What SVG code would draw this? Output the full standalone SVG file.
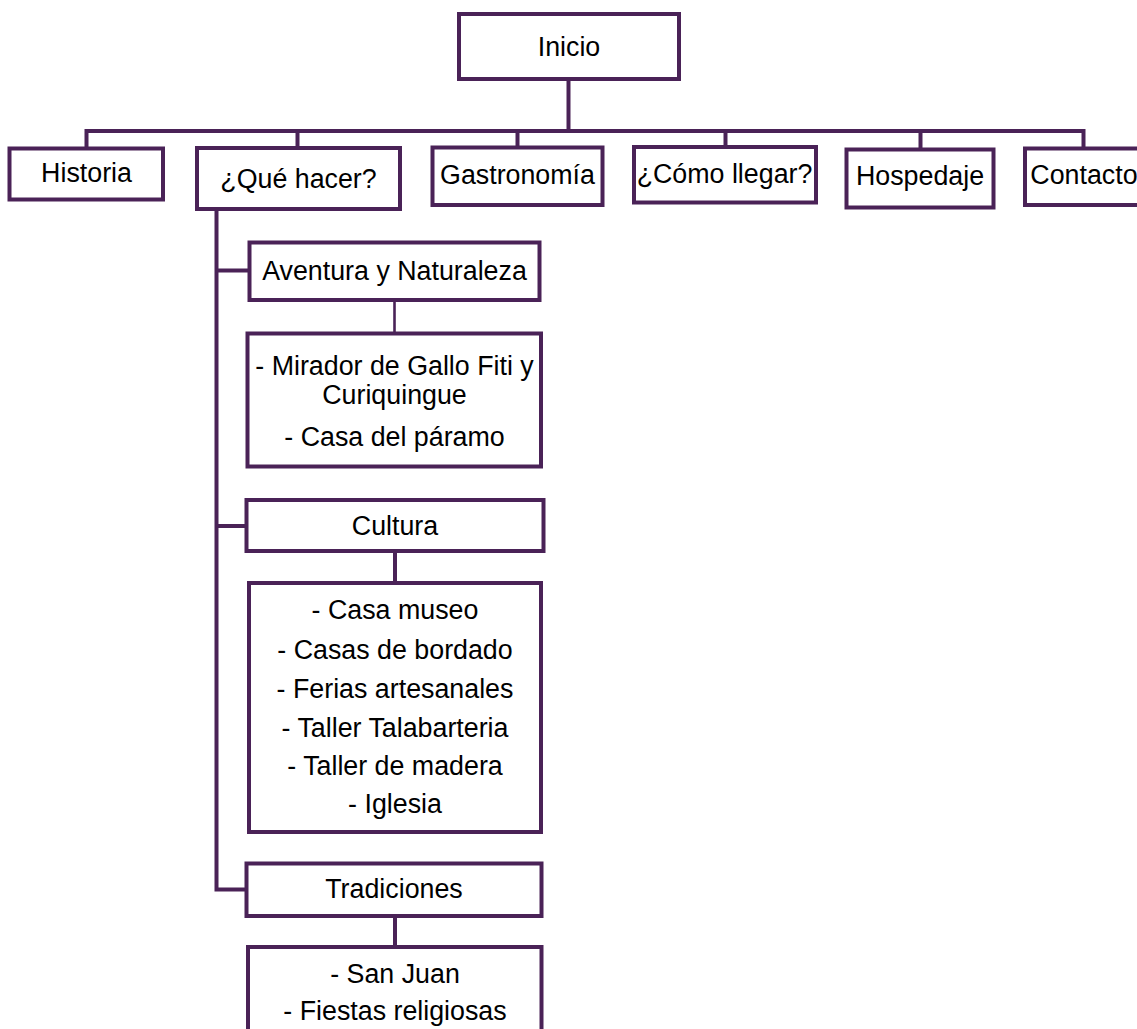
<svg xmlns="http://www.w3.org/2000/svg" width="1137" height="1029" viewBox="0 0 1137 1029">
<style>
.box{fill:#ffffff;stroke:#4a2257;stroke-width:4}
.ln{fill:none;stroke:#4a2257;stroke-width:4}
.thin{stroke-width:2.6}
text{font-family:"Liberation Sans",Arial,sans-serif;font-size:26.8px;fill:#000;text-anchor:middle}
</style>
<rect width="1137" height="1029" fill="#ffffff"/>
<g id="connectors">
<path class="ln" d="M568.5 79 V131"/>
<path class="ln" d="M86.5 148.5 V131 H1083.5 V148.5"/>
<path class="ln" d="M297.5 131 V148"/>
<path class="ln" d="M517.5 131 V147.5"/>
<path class="ln" d="M725.5 131 V147"/>
<path class="ln" d="M920.5 131 V149.5"/>
<path class="ln" d="M216.5 209 V889.5 H246.5"/>
<path class="ln" d="M216.5 270.5 H249.5"/>
<path class="ln" d="M216.5 526 H246.5"/>
<path class="ln thin" d="M394.5 300 V333.5"/>
<path class="ln" d="M395 551 V583"/>
<path class="ln" d="M395 916 V947"/>
</g>
<g id="inicio"><rect class="box" x="459" y="14" width="220" height="65"/><text x="569" y="56">Inicio</text></g>
<g id="historia"><rect class="box" x="9.5" y="148.5" width="153.5" height="51"/><text x="86.5" y="182">Historia</text></g>
<g id="que-hacer"><rect class="box" x="197" y="148" width="203" height="61"/><text x="298.5" y="188">¿Qué hacer?</text></g>
<g id="gastronomia"><rect class="box" x="432.5" y="147.5" width="170" height="57.5"/><text x="517.5" y="184">Gastronomía</text></g>
<g id="como-llegar"><rect class="box" x="634" y="147" width="182" height="55.5"/><text x="724.5" y="183">¿Cómo llegar?</text></g>
<g id="hospedaje"><rect class="box" x="846.5" y="149.5" width="147" height="58"/><text x="920" y="185">Hospedaje</text></g>
<g id="contacto"><rect class="box" x="1025" y="148.5" width="116" height="56.5"/><text x="1084" y="184">Contacto</text></g>
<g id="aventura"><rect class="box" x="249.5" y="242.5" width="290" height="57.5"/><text x="394.5" y="280">Aventura y Naturaleza</text></g>
<g id="mirador"><rect class="box" x="247.5" y="333.5" width="293.5" height="133"/>
<text x="394.5" y="375">- Mirador de Gallo Fiti y</text>
<text x="394.5" y="404">Curiquingue</text>
<text x="394.5" y="446">- Casa del páramo</text></g>
<g id="cultura"><rect class="box" x="246.5" y="500" width="297" height="51"/><text x="395" y="535">Cultura</text></g>
<g id="casa-museo"><rect class="box" x="249" y="583" width="292" height="249"/>
<text x="395" y="619">- Casa museo</text>
<text x="395" y="659">- Casas de bordado</text>
<text x="395" y="698">- Ferias artesanales</text>
<text x="395" y="737">- Taller Talabarteria</text>
<text x="395" y="775">- Taller de madera</text>
<text x="395" y="813">- Iglesia</text></g>
<g id="tradiciones"><rect class="box" x="246.5" y="863.5" width="295" height="52.5"/><text x="394" y="898">Tradiciones</text></g>
<g id="san-juan"><rect class="box" x="248" y="947" width="293.5" height="100"/>
<text x="395" y="983">- San Juan</text>
<text x="395" y="1020">- Fiestas religiosas</text></g>
</svg>
